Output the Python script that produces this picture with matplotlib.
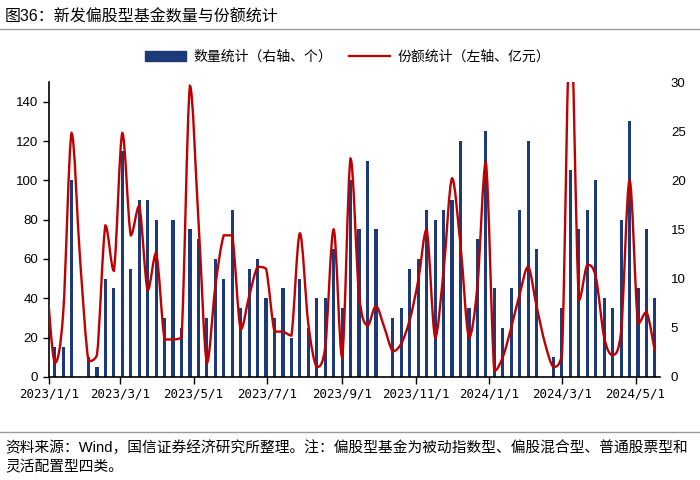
import matplotlib
matplotlib.use("Agg")
import matplotlib.pyplot as plt
import matplotlib.dates as mdates
from matplotlib.path import Path
from matplotlib.patches import PathPatch, Patch
from matplotlib.lines import Line2D
import numpy as np
import pandas as pd

plt.rcParams['font.family'] = ['Liberation Sans', 'Noto Sans CJK SC']

# weekly data, bars = number of new funds (right axis), line = shares (left axis, 亿元)
bar_dates = pd.date_range("2023-01-06", periods=72, freq="7D")
bar_counts = [3, 3, 20, 0, 2, 1, 10, 9, 23, 11,
              18, 18, 16, 6, 16, 5, 15, 14, 6, 12,
              10, 17, 7, 11, 12, 8, 6, 9, 4, 10,
              5, 8, 8, 13, 7, 20, 15, 22, 15, 0,
              6, 7, 11, 12, 17, 16, 17, 18, 24, 7,
              14, 25, 9, 5, 9, 17, 24, 13, 0, 2,
              7, 21, 15, 17, 20, 8, 7, 16, 26, 9,
              15, 8]

line_dates = pd.date_range("2022-12-30", periods=73, freq="7D")
line_shares = [52, 7, 32, 124, 60, 8, 11, 77, 54, 124,
               72, 87, 44, 63, 19, 19, 20, 148, 80, 7,
               46, 72, 72, 24, 41, 56, 55, 23, 23, 21,
               73, 27, 5, 15, 75, 10, 111, 42, 26, 36,
               25, 13, 17, 29, 49, 75, 20, 54, 101, 67,
               20, 46, 109, 3, 10, 25, 42, 56, 36, 17,
               5, 11, 185, 39, 57, 51, 20, 11, 23, 100,
               27, 33, 13]

tick_dates = ["2023-01-01", "2023-03-01", "2023-05-01", "2023-07-01",
              "2023-09-01", "2023-11-01", "2024-01-01", "2024-03-01", "2024-05-01"]
tick_labels = ["2023/1/1", "2023/3/1", "2023/5/1", "2023/7/1",
               "2023/9/1", "2023/11/1", "2024/1/1", "2024/3/1", "2024/5/1"]

navy = "#1c3a78"
red = "#c00000"


def smooth_path(x, y):
    # smoothed line: cubic bezier through every point, control points kept
    # inside each segment's range so it does not overshoot
    p = np.column_stack([x, y]).astype(float)
    n = len(p)
    verts = [p[0]]
    codes = [Path.MOVETO]
    for i in range(n - 1):
        p0 = p[max(i - 1, 0)]
        p3 = p[min(i + 2, n - 1)]
        c1 = p[i] + (p[i + 1] - p0) / 6
        c2 = p[i + 1] - (p3 - p[i]) / 6
        lo, hi = min(p[i][1], p[i + 1][1]), max(p[i][1], p[i + 1][1])
        c1[1] = np.clip(c1[1], lo, hi)
        c2[1] = np.clip(c2[1], lo, hi)
        verts += [c1, c2, p[i + 1]]
        codes += [Path.CURVE4] * 3
    return Path(verts, codes)


fig = plt.figure(figsize=(7, 4.8), dpi=100)
ax = fig.add_axes([0.0695, 0.215, 0.873, 0.614])
ax2 = ax.twinx()

# bars on ax (right-side ticks), line on ax2 (left-side ticks)
ax.bar(bar_dates, bar_counts, width=2.6, color=navy, zorder=2)
ax.set_ylim(0, 30)
ax.set_yticks(range(0, 31, 5))
ax.yaxis.tick_right()
ax.tick_params(axis='y', length=0, pad=8, labelsize=9.5)

xs = mdates.date2num(line_dates)
ax2.add_patch(PathPatch(smooth_path(xs, line_shares), fill=False,
                        edgecolor=red, lw=1.7, zorder=3))
ax2.set_ylim(0, 150)
ax2.set_yticks(range(0, 141, 20))
ax2.yaxis.tick_left()
ax2.tick_params(axis='y', length=4, width=1, labelsize=9.5, direction='out')

ax.set_xlim(pd.Timestamp("2023-01-01"), pd.Timestamp("2024-05-21"))
ax.set_xticks(pd.to_datetime(tick_dates))
ax.set_xticklabels(tick_labels, family='DejaVu Sans Mono', fontsize=9)
ax.tick_params(axis='x', length=5, width=1, pad=3)

for a in (ax, ax2):
    a.spines['top'].set_visible(False)
    a.spines['right'].set_visible(False)
    a.spines['left'].set_visible(False)
ax2.spines['left'].set_visible(True)
ax2.spines['left'].set_linewidth(1.2)
ax.spines['bottom'].set_linewidth(1.2)
ax2.spines['bottom'].set_visible(False)

handles = [Patch(color=navy), Line2D([0], [0], color=red, lw=1.6)]
fig.legend(handles, ["数量统计（右轴、个）", "份额统计（左轴、亿元）"],
           loc='center', bbox_to_anchor=(0.496, 0.882), ncol=2, frameon=False,
           fontsize=10, handlelength=3, handleheight=0.8, columnspacing=1.2,
           handletextpad=0.5)

fig.text(0.007, 0.965, "图36：新发偏股型基金数量与份额统计", fontsize=11.5,
         va='center', ha='left')
fig.add_artist(Line2D([0, 1], [0.94, 0.94], color="#999999", lw=1))
fig.add_artist(Line2D([0, 1], [0.1, 0.1], color="#999999", lw=1))
fig.text(0.007, 0.068, "资料来源：Wind，国信证券经济研究所整理。注：偏股型基金为被动指数型、偏股混合型、普通股票型和",
         fontsize=10.6, va='center', ha='left')
fig.text(0.007, 0.028, "灵活配置型四类。", fontsize=10.6, va='center', ha='left')

fig.savefig("out.png", dpi=100)
